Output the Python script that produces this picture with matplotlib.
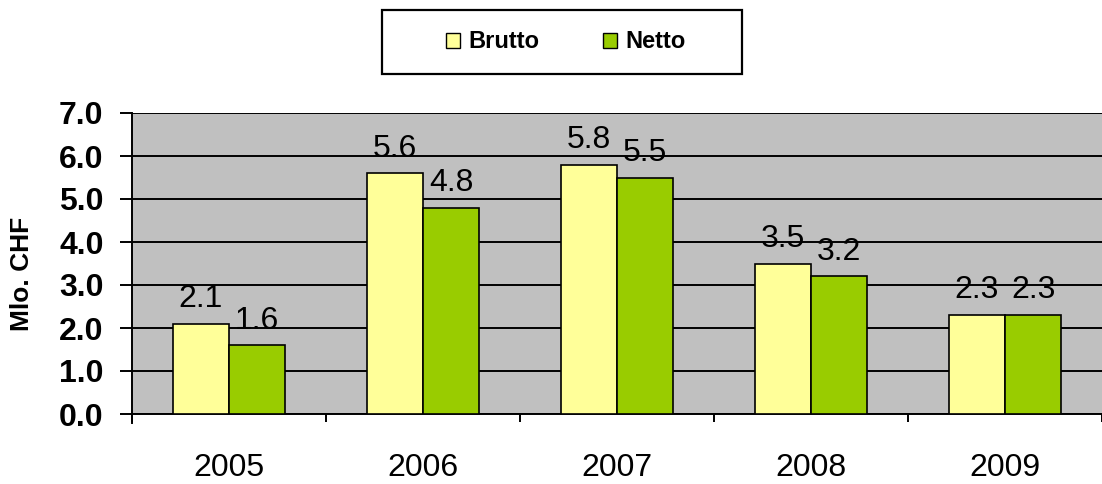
import matplotlib
matplotlib.use("Agg")
import matplotlib.pyplot as plt
from matplotlib.patches import Rectangle, Patch
import numpy as np

years = ["2005", "2006", "2007", "2008", "2009"]
brutto = [2.1, 5.6, 5.8, 3.5, 2.3]
netto = [1.6, 4.8, 5.5, 3.2, 2.3]
series_names = ["Brutto", "Netto"]
y_ticks = [0.0, 1.0, 2.0, 3.0, 4.0, 5.0, 6.0, 7.0]

plt.rcParams['font.family'] = ['Liberation Sans', 'DejaVu Sans']

fig = plt.figure(figsize=(11.02, 4.84), dpi=100)
ax = fig.add_axes([132/1102, 1-414/484, 1-132/1102, (414-113)/484])
ax.set_facecolor('#C0C0C0')

x = np.arange(len(years))
w = 0.29
c_b = '#FFFF99'
c_n = '#99CC00'
b1 = ax.bar(x - w/2, brutto, w, color=c_b, edgecolor='black', linewidth=1.2, zorder=3)
b2 = ax.bar(x + w/2, netto, w, color=c_n, edgecolor='black', linewidth=1.2, zorder=3)

for bars, vals in ((b1, brutto), (b2, netto)):
    for r, v in zip(bars, vals):
        ax.annotate(f"{v:.1f}", (r.get_x() + r.get_width()/2, v), xytext=(0, 12),
                    textcoords='offset points', ha='center', va='baseline', fontsize=23, zorder=4)

ax.set_xlim(-0.5, len(years) - 0.5)
ax.set_ylim(0, 7)
ax.set_yticks(y_ticks)
ax.set_yticklabels([f"{t:.1f}" for t in y_ticks], fontsize=23, fontweight='bold')
ax.yaxis.grid(True, color='black', linewidth=1.4, zorder=1)
ax.set_axisbelow(True)
ax.tick_params(axis='y', direction='out', length=8.5, width=1.4, pad=12)

ax.set_xticks(x)
ax.set_xticklabels(years, fontsize=23)
ax.set_xticks(np.arange(-0.5, len(years)), minor=True)
ax.tick_params(axis='x', which='major', length=0, pad=28)
ax.tick_params(axis='x', which='minor', length=6, width=1.4, direction='out')

for s in ['top', 'right']:
    ax.spines[s].set_visible(False)
ax.spines['left'].set_linewidth(1.4)
ax.spines['bottom'].set_linewidth(1.4)
ax.spines['left'].set_bounds(-0.2, 7)

ax.set_ylabel("Mlo. CHF", fontsize=19, fontweight='bold')
ax.yaxis.set_label_coords(-0.101, 0.465)

# legend box
fig.patches.append(Rectangle((382/1102, 1-74/484), 360/1102, 64/484, transform=fig.transFigure,
                             facecolor='white', edgecolor='black', linewidth=1.6))
handles = [Patch(facecolor=c_b, edgecolor='black', linewidth=1.0),
           Patch(facecolor=c_n, edgecolor='black', linewidth=1.0)]
leg = fig.legend(handles, series_names, loc='center', bbox_to_anchor=(566/1102, 1-42/484),
                 ncol=2, frameon=False, prop={'size': 17, 'weight': 'bold'},
                 handlelength=0.6, handleheight=0.6, handletextpad=0.35, columnspacing=2.7)

fig.savefig("out.png", dpi=100)
